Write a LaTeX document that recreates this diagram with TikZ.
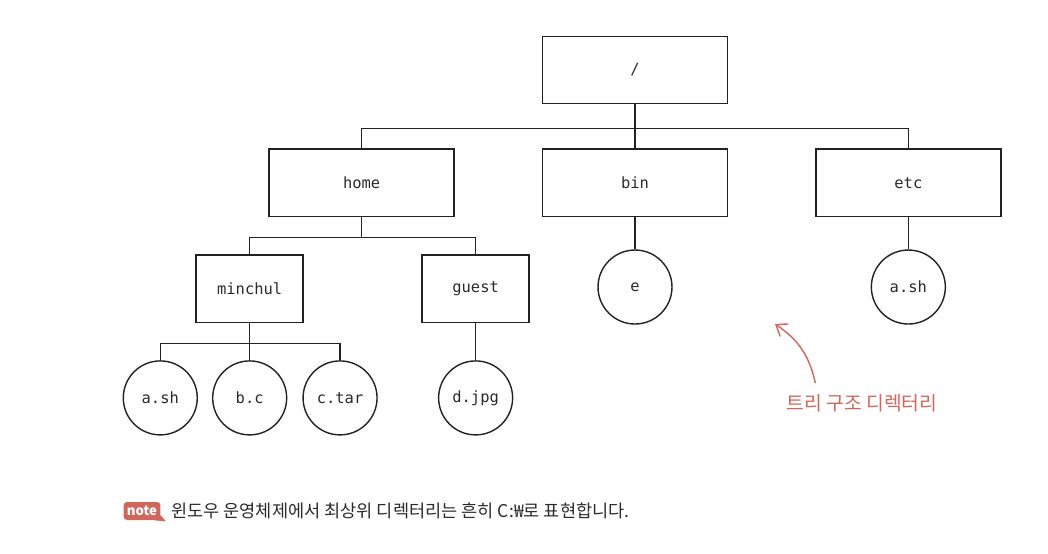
\documentclass[tikz,border=0pt]{standalone}
\usepackage{fontspec}
\setmainfont{DejaVu Sans Mono}
\newfontfamily\krfont{Noto Sans CJK KR}
\definecolor{inkline}{HTML}{222222}
\definecolor{notered}{HTML}{D0675B}
\definecolor{bodytext}{HTML}{2A2A2A}
\usepackage{tikz}
\usetikzlibrary{arrows.meta, positioning}

\begin{document}
\begin{tikzpicture}[
    x=0.02cm, y=-0.02cm,
    dirbox/.style={draw=inkline, line width=0.8pt, minimum width=3.7cm, minimum height=1.35cm, text=bodytext, font=\fontsize{8.8}{10}\selectfont},
    subbox/.style={dirbox, minimum width=2.14cm},
    filenode/.style={draw=inkline, line width=0.8pt, circle, minimum size=1.48cm, inner sep=0pt, text=bodytext, font=\fontsize{8.8}{10}\selectfont},
    link/.style={draw=inkline, line width=0.7pt},
    redarr/.style={-{Straight Barb[length=2mm, width=3mm]}, line width=0.8pt, color=notered},
  ]
  \useasboundingbox (0,0) rectangle (1048,554);
  % top level
  \node[dirbox] (root) at (635,70) {/};
  \node[dirbox, below=0.88cm of root]  (bin)  {bin};
  \node[dirbox, left=1.74cm of bin]    (home) {home};
  \node[dirbox, right=1.74cm of bin]   (etc)  {etc};
  \coordinate[below=0.48cm of root.south] (rootbus);
  \draw[link] (root.south) -- (rootbus) -- (bin.north);
  \draw[link] (home.north) |- (rootbus) -| (etc.north);
  % home
  \node[subbox, below=0.74cm of home, xshift=-2.24cm] (minchul) {minchul};
  \node[subbox, below=0.74cm of home, xshift=2.28cm]  (guest)   {guest};
  \coordinate[below=0.4cm of home.south] (homebus);
  \draw[link] (home.south) -- (homebus);
  \draw[link] (minchul.north) |- (homebus) -| (guest.north);
  % files
  \node[filenode, below=0.74cm of minchul] (bc)   {b.c};
  \node[filenode, left=0.28cm of bc]       (ash)  {a.sh};
  \node[filenode, right=0.3cm of bc]       (ctar) {c.tar};
  \node[filenode, below=0.74cm of guest]   (djpg) {d.jpg};
  \node[filenode, below=0.64cm of bin]     (e)    {e};
  \node[filenode, below=0.64cm of etc]     (etcsh){a.sh};
  \coordinate[below=0.4cm of minchul.south] (minbus);
  \draw[link] (minchul.south) -- (minbus) -- (bc.north);
  \draw[link] (ash.north) |- (minbus) -| (ctar.north);
  \draw[link] (guest) -- (djpg);
  \draw[link] (bin) -- (e);
  \draw[link] (etc) -- (etcsh);
  % annotation
  \node[text=notered, font=\krfont\fontsize{11}{13}\selectfont] (treelabel) at (862,403) {트리 구조 디렉터리};
  \coordinate (treetip) at (775,324);
  \draw[redarr] ([xshift=0.7cm, yshift=0.1cm]treelabel.north west) to[bend right=22] (treetip);
  % note line
  \node[fill=notered, rounded corners=2pt, text=white, inner sep=0pt, minimum width=0.74cm, minimum height=0.36cm, font=\krfont\bfseries\fontsize{7.5}{8}\selectfont] (notebadge) at (142,511) {note};
  \fill[notered] ([xshift=-0.12cm]notebadge.south east) -- ++(0.22cm,-0.02cm) -- ([yshift=0.1cm]notebadge.south east) -- cycle;
  \node[right=0.2cm of notebadge, inner sep=0pt, text=bodytext, font=\krfont\fontsize{10}{12}\selectfont] (notetext) {윈도우 운영체제에서 최상위 디렉터리는 흔히 C:₩로 표현합니다.};
\end{tikzpicture}
\end{document}
